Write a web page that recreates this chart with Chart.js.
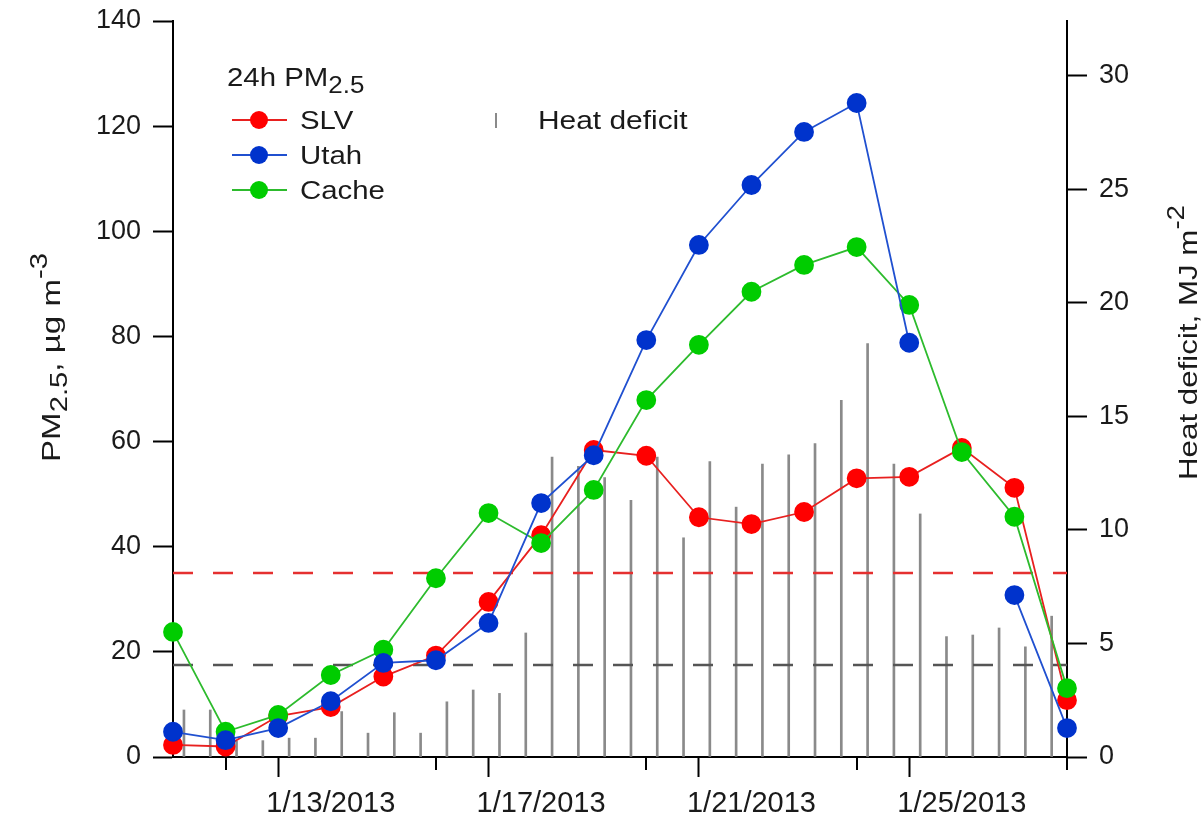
<!DOCTYPE html>
<html>
<head>
<meta charset="utf-8">
<script src="https://cdn.jsdelivr.net/npm/chart.js@4.4.1/dist/chart.umd.min.js"></script>
<style>
html,body{margin:0;padding:0;background:#fff;}
#wrap{width:1202px;height:823px;position:relative;}
</style>
</head>
<body>
<div id="wrap"><canvas id="c"></canvas></div>
<script>
// ---------------- data ----------------
const pmDates = ['1/10/2013','1/11/2013','1/12/2013','1/13/2013','1/14/2013','1/15/2013','1/16/2013','1/17/2013','1/18/2013',
                 '1/19/2013','1/20/2013','1/21/2013','1/22/2013','1/23/2013','1/24/2013','1/25/2013','1/26/2013','1/27/2013'];
const slv   = [2.3, 2.0, 7.8, 9.5, 15.3, 19.3, 29.5, 42.2, 58.4, 57.3, 45.6, 44.3, 46.6, 53.0, 53.3, 58.8, 51.2, 10.8];
const utah  = [4.8, 3.2, 5.5, 10.6, 17.9, 18.4, 25.5, 48.3, 57.4, 79.3, 97.4, 108.8, 118.9, 124.4, 78.8, null, 30.8, 5.5];
const cache = [23.8, 4.8, 8.0, 15.6, 20.4, 34.0, 46.4, 40.7, 50.8, 67.9, 78.4, 88.5, 93.6, 97.0, 86.0, 58.0, 45.7, 13.1];

const heatTimes = ['1/10/2013 05:00','1/10/2013 17:00','1/11/2013 05:00','1/11/2013 17:00','1/12/2013 05:00','1/12/2013 17:00',
                   '1/13/2013 05:00','1/13/2013 17:00','1/14/2013 05:00','1/14/2013 17:00','1/15/2013 05:00','1/15/2013 17:00',
                   '1/16/2013 05:00','1/16/2013 17:00','1/17/2013 05:00','1/17/2013 17:00','1/18/2013 05:00','1/18/2013 17:00',
                   '1/19/2013 05:00','1/19/2013 17:00','1/20/2013 05:00','1/20/2013 17:00','1/21/2013 05:00','1/21/2013 17:00',
                   '1/22/2013 05:00','1/22/2013 17:00','1/23/2013 05:00','1/23/2013 17:00','1/24/2013 05:00','1/24/2013 17:00',
                   '1/25/2013 05:00','1/25/2013 17:00','1/26/2013 05:00','1/26/2013 17:00'];
const heatDeficit = [2.07, 2.07, 0.7, 0.72, 0.83, 0.83, 2.0, 1.05, 1.95, 1.05, 2.43, 2.95,
                     2.8, 5.46, 13.2, 12.8, 12.3, 11.3, 13.2, 9.65, 13.0, 11.0, 12.9, 13.3,
                     13.8, 15.7, 18.2, 12.9, 10.7, 5.3, 5.37, 5.68, 4.85, 6.2];

const standardLevel = 35;     // red dashed
const halfLevel = 17.5;       // gray dashed

const pmTicks = [0, 20, 40, 60, 80, 100, 120, 140];
const heatTicks = [0, 5, 10, 15, 20, 25, 30];
const dateTicks = ['1/11/2013','1/13/2013','1/15/2013','1/17/2013','1/19/2013','1/21/2013','1/23/2013','1/25/2013','1/27/2013'];
const labeledDates = ['1/13/2013','1/17/2013','1/21/2013','1/25/2013'];

// ---------------- helpers ----------------
function dayOf(s){
  const parts = s.split(' ');
  const d = parts[0].split('/');
  let v = +d[1];
  if (parts[1]) { const t = parts[1].split(':'); v += (+t[0] + (+t[1])/60)/24; }
  return v;
}
const labeledVals = labeledDates.map(dayOf);
const FONT = '"Liberation Sans", Arial, Helvetica, sans-serif';
const COL = {
  slvPt:'#ff0000', slvLn:'#e8201f',
  utahPt:'#0033cc', utahLn:'#2050d0',
  cachePt:'#00cc00', cacheLn:'#2dbb2d',
  bar:'#8a8a8a', red:'#e53030', gray:'#555555'
};

const xFirst = dayOf(pmDates[0]), xLast = dayOf(pmDates[pmDates.length-1]);
const series = (arr) => pmDates.map((d,i)=>({x:dayOf(d), y:arr[i]}));

// ---------------- plugins ----------------
function drawRich(ctx, parts, x, y, rot, stretch, target){
  ctx.save();
  ctx.translate(x, y);
  ctx.rotate(rot);
  let w = 0;
  parts.forEach(p=>{ ctx.font = p.size + 'px ' + FONT; w += ctx.measureText(p.t).width; });
  const s = target ? target / w : stretch;
  ctx.scale(s, 1);
  ctx.fillStyle = '#1a1a1a';
  ctx.textBaseline = 'alphabetic';
  ctx.textAlign = 'left';
  let cx = 0;
  parts.forEach(p=>{
    ctx.font = p.size + 'px ' + FONT;
    ctx.fillText(p.t, cx, p.dy || 0);
    cx += ctx.measureText(p.t).width;
  });
  ctx.restore();
}

const decorPlugin = {
  id:'decor',
  afterDraw(chart){
    const ctx = chart.ctx;
    // minor x ticks
    const sx = chart.scales.x;
    ctx.save();
    ctx.strokeStyle = '#000';
    ctx.lineWidth = 2;
    sx.ticks.forEach(t=>{
      if (!labeledVals.includes(t.value)) {
        const px = Math.round(sx.getPixelForValue(t.value));
        ctx.beginPath(); ctx.moveTo(px, sx.top); ctx.lineTo(px, sx.top + 13); ctx.stroke();
      }
    });
    ctx.restore();

    // axis titles
    drawRich(ctx, [
      {t:'PM', size:26},
      {t:'2.5', size:23, dy:7},
      {t:', \u00b5g m', size:26},
      {t:'-3', size:23, dy:-13}
    ], 60, 462, -Math.PI/2, 1, 209);
    drawRich(ctx, [
      {t:'Heat deficit, MJ m', size:26},
      {t:'-2', size:23, dy:-13}
    ], 1197, 480, -Math.PI/2, 1, 275);

    // legend
    ctx.save();
    drawRich(ctx, [{t:'24h PM', size:26},{t:'2.5', size:23, dy:7}], 227, 86, 0, 1.13);
    const rows = [
      {label:'SLV', ln:COL.slvLn, pt:COL.slvPt, y:120},
      {label:'Utah', ln:COL.utahLn, pt:COL.utahPt, y:155},
      {label:'Cache', ln:COL.cacheLn, pt:COL.cachePt, y:190}
    ];
    rows.forEach(r=>{
      ctx.strokeStyle = r.ln; ctx.lineWidth = 1.8;
      ctx.beginPath(); ctx.moveTo(232, r.y); ctx.lineTo(287, r.y); ctx.stroke();
      ctx.fillStyle = r.pt;
      ctx.beginPath(); ctx.arc(259, r.y, 9, 0, Math.PI*2); ctx.fill();
      drawRich(ctx, [{t:r.label, size:26}], 300, r.y + 9, 0, 1.13);
    });
    ctx.strokeStyle = COL.bar; ctx.lineWidth = 2;
    ctx.beginPath(); ctx.moveTo(496, 113); ctx.lineTo(496, 128); ctx.stroke();
    drawRich(ctx, [{t:'Heat deficit', size:26}], 538, 129, 0, 1.15);
    ctx.restore();
  }
};

// ---------------- chart ----------------
const tickFontY = {family: FONT, size: 27};
const fitY = w => s => { s.width = w; s.paddingTop = 0; s.paddingBottom = 0; };
new Chart(document.getElementById('c'), {
  type: 'line',
  data: {
    datasets: [
      { label:'Utah', data: series(utah), borderColor: COL.utahLn, backgroundColor: COL.utahPt,
        pointBackgroundColor: COL.utahPt, pointBorderColor: COL.utahPt, pointRadius: 9, pointHoverRadius: 9,
        borderWidth: 1.8, spanGaps:false, clip:false, order:1, yAxisID:'y' },
      { label:'Cache', data: series(cache), borderColor: COL.cacheLn, backgroundColor: COL.cachePt,
        pointBackgroundColor: COL.cachePt, pointBorderColor: COL.cachePt, pointRadius: 9, pointHoverRadius: 9,
        borderWidth: 1.8, clip:false, order:2, yAxisID:'y' },
      { label:'SLV', data: series(slv), borderColor: COL.slvLn, backgroundColor: COL.slvPt,
        pointBackgroundColor: COL.slvPt, pointBorderColor: COL.slvPt, pointRadius: 9, pointHoverRadius: 9,
        borderWidth: 1.8, clip:false, order:3, yAxisID:'y' },
      { label:'standard', data: [{x:xFirst,y:standardLevel},{x:xLast,y:standardLevel}], borderColor: COL.red,
        borderDash:[20,20], borderWidth:2.5, pointRadius:0, order:5, yAxisID:'y' },
      { label:'half', data: [{x:xFirst,y:halfLevel},{x:xLast,y:halfLevel}], borderColor: COL.gray,
        borderDash:[20,20], borderWidth:2.5, pointRadius:0, order:6, yAxisID:'y' },
      { type:'bar', label:'Heat deficit', data: heatTimes.map((t,i)=>({x:dayOf(t), y:heatDeficit[i]})),
        backgroundColor: COL.bar, borderWidth:0, barThickness:2, grouped:false, order:10, yAxisID:'y2' }
    ]
  },
  options: {
    responsive: true,
    maintainAspectRatio: false,
    animation: false,
    events: [],
    layout: { padding: { top: 21, left: 0, right: 0, bottom: 0 } },
    plugins: { legend: { display:false }, tooltip: { enabled:false }, title: { display:false } },
    scales: {
      x: {
        type:'linear', position:'bottom', min: xFirst, max: xLast, offset:false,
        afterBuildTicks: s => { s.ticks = dateTicks.map(d=>({value: dayOf(d)})); },
        afterFit: s => { s.height = 66; s.paddingLeft = 0; s.paddingRight = 0; },
        ticks: {
          autoSkip:false, maxRotation:0, padding:10, color:'#1a1a1a',
          font: {family: FONT, size: 29},
          callback: (v) => { const i = labeledVals.indexOf(v); return i >= 0 ? labeledDates[i] : ''; }
        },
        grid: { drawOnChartArea:false, drawTicks:true, tickLength:20, tickWidth:2,
                tickColor: c => (c.tick && labeledVals.includes(c.tick.value)) ? '#000' : 'rgba(0,0,0,0)' },
        border: { display:true, color:'#000', width:2 }
      },
      y: {
        type:'linear', position:'left', min:0, max:140,
        afterBuildTicks: s => { s.ticks = pmTicks.map(v=>({value:v})); },
        afterFit: fitY(173),
        ticks: { padding:12, color:'#1a1a1a', font: tickFontY },
        grid: { drawOnChartArea:false, drawTicks:true, tickLength:20, tickWidth:2, tickColor:'#000' },
        border: { display:true, color:'#000', width:2 }
      },
      y2: {
        type:'linear', position:'right', min:0, max:32.4,
        afterBuildTicks: s => { s.ticks = heatTicks.map(v=>({value:v})); },
        afterFit: fitY(135),
        ticks: { padding:12, color:'#1a1a1a', font: tickFontY },
        grid: { drawOnChartArea:false, drawTicks:true, tickLength:20, tickWidth:2, tickColor:'#000' },
        border: { display:true, color:'#000', width:2 }
      }
    }
  },
  plugins: [decorPlugin]
});
</script>
</body>
</html>
